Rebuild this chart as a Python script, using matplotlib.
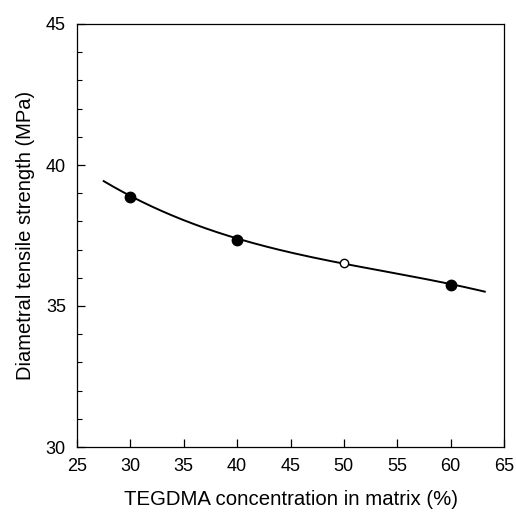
import numpy as np
import matplotlib.pyplot as plt
from matplotlib.ticker import MultipleLocator

# measured points
conc = [30, 40, 50, 60]
dts = [38.85, 37.35, 36.52, 35.75]
filled = [True, True, False, True]

# fitted curve
curve_x = [27.5, 30, 35, 40, 45, 50, 55, 60, 63.2]
curve_y = [39.46, 38.85, 38.08, 37.35, 36.93, 36.52, 36.13, 35.75, 35.53]

plt.rcParams['font.family'] = ['Liberation Sans', 'DejaVu Sans']

fig = plt.figure(figsize=(5.16, 5.12), dpi=100)
ax = fig.add_axes([77 / 516, 1 - 447 / 512, 427 / 516, 423 / 512])

coef = np.polyfit(curve_x, curve_y, 3)
xs = np.linspace(curve_x[0], curve_x[-1], 200)
ax.plot(xs, np.polyval(coef, xs), color='black', lw=1.4, zorder=2)

for x, y, f in zip(conc, dts, filled):
    ax.plot(x, y, 'o', markersize=7.5 if f else 6,
            markerfacecolor='black' if f else 'white',
            markeredgecolor='black', markeredgewidth=1.0, zorder=3)

ax.set_xlim(25, 65)
ax.set_ylim(30, 45)
ax.xaxis.set_major_locator(MultipleLocator(5))
ax.yaxis.set_major_locator(MultipleLocator(5))
ax.yaxis.set_minor_locator(MultipleLocator(1))
ax.tick_params(direction='in', which='major', length=6, width=0.9, labelsize=13, pad=8)
ax.tick_params(direction='in', which='minor', length=3.5, width=0.8)
for s in ax.spines.values():
    s.set_linewidth(0.9)

ax.set_xlabel('TEGDMA concentration in matrix (%)', fontsize=14.7, labelpad=11)
ax.set_ylabel('Diametral tensile strength (MPa)', fontsize=14.5, labelpad=8)

fig.savefig('out.png', dpi=100)
